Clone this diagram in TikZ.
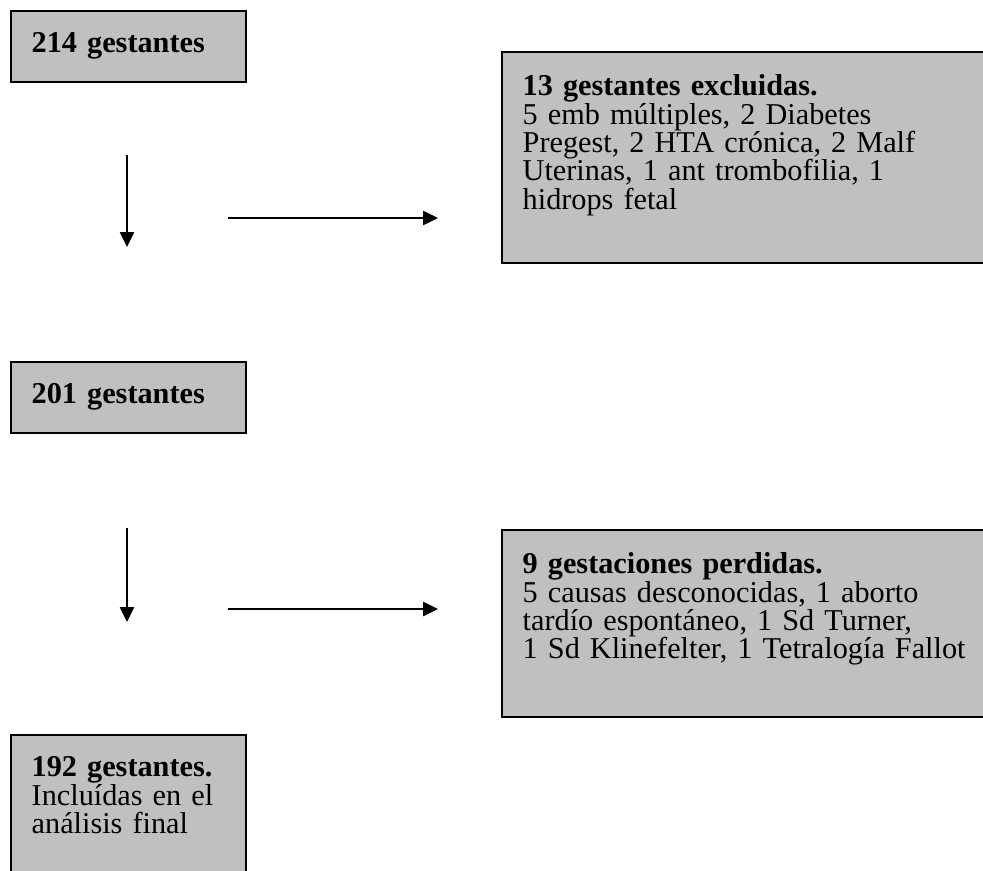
\documentclass[tikz,border=0pt]{standalone}
\usepackage{fontspec}
\setmainfont{Liberation Serif}
\usetikzlibrary{arrows.meta}
\definecolor{boxgray}{RGB}{192,192,192}
\tikzstyle{box} = [rectangle, draw, line width=0.8pt, fill=boxgray, anchor=north west,
    align=left, inner xsep=10.3pt, inner ysep=0pt, font=\fontsize{14.9pt}{13.95pt}\selectfont]
\tikzstyle{line} = [draw, line width=0.6pt, -{Triangle[length=7.3pt, width=7pt]}]

\begin{document}
\begin{tikzpicture}[x=0.4925pt, y=-0.4925pt]

		\clip (0,0) rectangle (983,870);

		\node [box, text width=95.1pt, text height=20.7pt, text depth=14.3pt] (total) at (10,10) {\textbf{214 gestantes}};
		\node [box, text width=235pt, text height=21.7pt, text depth=82.2pt] (excluded) at (501,51)
			{\textbf{13 gestantes excluidas.}\\5 emb múltiples, 2 Diabetes\\Pregest, 2 HTA crónica, 2 Malf\\Uterinas, 1 ant trombofilia, 1\\hidrops fetal};
		\node [box, text width=95.1pt, text height=20.7pt, text depth=14.3pt] (remaining) at (10,361) {\textbf{201 gestantes}};
		\node [box, text width=235pt, text height=21.7pt, text depth=70.4pt] (lost) at (501,529)
			{\textbf{9 gestaciones perdidas.}\\5 causas desconocidas, 1 aborto\\tardío espontáneo, 1 Sd Turner,\\1 Sd Klinefelter, 1 Tetralogía Fallot};
		\node [box, text width=95.1pt, text height=20.7pt, text depth=53.2pt] (final) at (10,734)
			{\textbf{192 gestantes.}\\Incluídas en el\\análisis final};

		% free arrow ends
		\coordinate (down1a) at (127,155);
		\coordinate (down1b) at (127,247);
		\coordinate (side1a) at (228,218);
		\coordinate (side1b) at (438,218);
		\coordinate (down2a) at (127,528);
		\coordinate (down2b) at (127,622);
		\coordinate (side2a) at (228,609);
		\coordinate (side2b) at (438,609);

		\path [line] (down1a) -- (down1b);
		\path [line] (side1a) -- (side1b);
		\path [line] (down2a) -- (down2b);
		\path [line] (side2a) -- (side2b);
	\end{tikzpicture}
\end{document}
